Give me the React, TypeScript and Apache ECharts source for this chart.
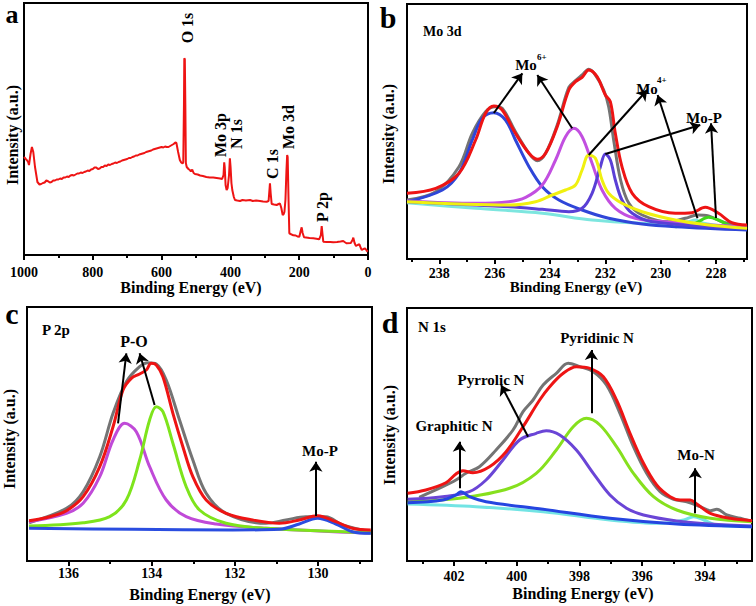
import React, { useEffect, useRef } from "react";
import * as echarts from "echarts";

const FONT = '"Liberation Serif", "Times New Roman", serif';

// ---------- Panel a : survey spectrum (binding energy eV, intensity a.u.) ----------
const surveySpectrum: [number, number][] = [
  [1000, 98], [995, 96], [992, 95], [988, 93], [985.5, 90], [981, 101], [977, 108], [973, 103], [968, 88], [961, 73], [955, 70.5],
  [950, 71], [945, 72], [940, 72.5], [935, 74.5], [930, 73.8], [925, 72.5], [920, 73], [915, 74.5], [910, 74.5], [905, 75.5],
  [900, 75.5], [895, 76.5], [890, 76], [885, 77.5], [880, 77.5], [875, 78.5], [870, 78], [865, 79.5], [860, 80], [855, 79.5],
  [850, 80.5], [845, 81.5], [840, 81.5], [835, 82.5], [830, 82], [825, 83], [820, 83.5], [815, 84.5], [810, 84], [805, 85.5],
  [800, 86], [795, 87.5], [790, 87.5], [785, 86], [780, 86.5], [775, 88], [770, 88], [765, 89.5], [760, 89], [755, 90.5],
  [750, 90], [745, 91], [740, 91.5], [735, 92.5], [730, 92], [725, 93], [720, 93.5], [715, 94.5], [710, 95], [705, 95.5],
  [700, 96], [695, 97], [690, 97], [685, 98], [680, 98.5], [675, 99.5], [670, 99.5], [665, 100.5], [660, 101], [655, 101.5],
  [650, 102], [645, 103], [640, 103.5], [635, 104], [630, 104.5], [625, 105.5], [620, 106], [615, 106.5], [610, 107], [605, 107.5],
  [600, 108], [595, 107.5], [590, 108.5], [585, 108], [580, 108], [575, 109], [570, 110], [565, 111], [560, 112.5], [557, 112],
  [552, 103], [547, 95], [543, 92.5], [539, 91.5], [537, 93], [535, 150], [534, 196.7], [532.5, 196], [531, 150], [529.5, 92],
  [527, 88], [522, 86], [518, 85], [515, 83.5], [511, 85.5], [507, 82], [503, 81], [495, 80.5], [488, 79.5], [480, 79],
  [470, 78], [460, 77.5], [450, 77.5], [440, 77], [430, 76.5], [424, 76], [420, 80], [418, 92.7], [416.5, 88], [414, 70],
  [411, 65], [408, 67], [404, 80], [401.5, 96.7], [399.5, 88], [397, 72], [394.5, 65], [390, 58], [386.7, 55], [380, 54.5],
  [372, 54], [365, 55], [355, 54.5], [343, 55], [335, 54], [325, 54.5], [314, 54], [305, 53.5], [294.5, 53.3], [289, 54],
  [286.5, 65], [285, 71.7], [283, 62], [280, 51], [273, 50.5], [265.5, 50], [260, 51], [256, 51.5], [252, 47], [248, 40],
  [245, 41], [243, 43], [240, 55], [237, 85], [235, 100], [233.5, 98], [231, 55], [228.7, 21.7], [225, 21], [217, 19.7],
  [210, 19.5], [205, 18.5], [199.6, 18.3], [195, 25], [192.8, 27.7], [190, 22], [186, 17.7], [180, 17.5], [170, 17], [159, 16.7],
  [150, 16.3], [142, 15.7], [137, 20], [134.6, 29], [132, 20], [130, 13.3], [120, 13], [110, 13], [101, 12.7], [90, 13],
  [80, 13.5], [72, 14], [66, 12.5], [62, 11.7], [50, 12], [45, 15], [42.7, 17.3], [39, 12], [35, 9], [30, 10],
  [25, 10.7], [21, 7], [18, 5], [13, 6], [8.5, 6.7], [4, 4.5], [0.7, 3.3],
];
const surveyTicks = [1000, 800, 600, 400, 200, 0];
const surveyMinorTicks = [900, 700, 500, 300, 100];

// ---------- Panel b : Mo 3d ----------
const moRaw: [number, number][] = [
  [239.17, 59], [238.13, 67.3], [237.29, 92.3], [236.81, 125.7], [236.33, 147.3], [235.97, 152.3], [235.73, 150.7],
  [235.25, 127.3], [234.76, 105.7], [234.46, 98.3], [234.16, 105.7], [233.74, 134], [233.32, 171.7], [233.08, 178.3],
  [232.84, 184], [232.6, 189.7], [232.36, 184], [232.06, 169], [231.88, 152.3], [231.7, 119], [231.45, 79], [231.15, 55.7],
  [230.67, 44], [229.71, 37.3], [229.11, 40.7], [228.68, 44], [228.27, 43], [227.79, 37.3], [227.31, 34], [226.88, 31.7],
];
const moFit: [number, number][] = [
  [239.17, 65.7], [238.13, 70.7], [237.29, 85.7], [236.69, 119], [236.33, 145.7], [236.03, 153], [235.73, 149], [235.25, 125.7],
  [234.76, 105.7], [234.46, 99.7], [234.16, 105.7], [233.74, 132.3], [233.32, 169], [233.08, 177.3], [232.84, 181.7], [232.6, 189],
  [232.3, 182.3], [232.0, 164], [231.82, 157.3], [231.64, 125.7], [231.4, 92.3], [231.03, 65.7], [230.43, 52.3], [229.47, 45.7],
  [228.87, 46.3], [228.39, 51.7], [227.91, 45.7], [227.43, 36.3], [226.88, 34],
];
const mo6High: [number, number][] = [
  [239.17, 57.3], [237.89, 69], [237.29, 85.7], [236.81, 119], [236.45, 140.7], [236.03, 146.3], [235.61, 139], [235.25, 119],
  [234.76, 92.3], [234.28, 72.3], [233.68, 59], [232.84, 49], [231.88, 40.7], [230.67, 35], [229.47, 32.3], [226.88, 29],
];
const mo6Low: [number, number][] = [
  [239.17, 58], [236.69, 55.7], [235.49, 57.3], [234.88, 61.7], [234.28, 74], [233.8, 99], [233.44, 122.3], [233.14, 130.7],
  [232.84, 122.3], [232.48, 95.7], [232.12, 69], [231.64, 50.7], [230.92, 40.7], [229.47, 36.3], [226.88, 32.3],
];
const mo4High: [number, number][] = [
  [239.17, 57.3], [235.49, 54], [234.52, 57.3], [233.92, 64], [233.44, 69], [233.08, 74], [232.84, 89], [232.6, 104],
  [232.36, 100.7], [232.12, 79], [231.88, 65.7], [231.4, 55.7], [230.67, 47.3], [229.47, 39], [228.27, 34], [226.88, 30.7],
];
const mo4Low: [number, number][] = [
  [239.17, 57.3], [235.49, 52.3], [234.28, 49.7], [233.32, 47.3], [232.84, 50.7], [232.48, 65.7], [232.18, 92.3], [232.0, 105],
  [231.82, 99], [231.64, 79], [231.4, 59], [231.03, 45.7], [230.31, 37.3], [226.88, 30.7],
];
const moBackground: [number, number][] = [
  [239.17, 56.3], [236.69, 50.7], [234.28, 45.7], [232.48, 39], [230.67, 35.7], [229.47, 35], [228.99, 37.3], [228.75, 39],
  [228.45, 35.7], [226.88, 29.7],
];
const moP: [number, number][] = [
  [229.47, 32.3], [228.75, 35.7], [228.27, 41.7], [227.91, 39], [227.43, 32.3], [226.88, 29.7],
];
const moArrows: [[number, number], [number, number]][] = [
  [[236.03, 146], [235.0, 185.7]],
  [[233.2, 130.7], [234.46, 184]],
  [[232.6, 104], [230.49, 169]],
  [[228.67, 40.7], [230.11, 164]],
  [[232.0, 105], [228.57, 134]],
  [[228.0, 41], [228.18, 135.7]],
];
const moTicks = [238, 236, 234, 232, 230, 228];
const moMinorTicks = [239, 237, 235, 233, 231, 229, 227];

// ---------- Panel c : P 2p ----------
const pRaw: [number, number][] = [
  [136.95, 38.3], [136.05, 52.7], [135.65, 69.3], [135.25, 104.3], [134.93, 147.7], [134.61, 179.3], [134.29, 194.3],
  [134.09, 198.3], [133.89, 197], [133.65, 181], [133.33, 141], [133.01, 101], [132.69, 67.7], [132.21, 47.7], [131.25, 37.7],
  [130.77, 41], [130.29, 44.3], [129.81, 44.3], [129.41, 36], [128.73, 29.3],
];
const pFit: [number, number][] = [
  [136.95, 40.3], [136.45, 44.3], [136.05, 50.3], [135.65, 64.3], [135.25, 94.3], [134.93, 134.3], [134.69, 171], [134.49, 182.7],
  [134.29, 187], [134.13, 191], [134.01, 197.7], [133.89, 196], [133.73, 184.3], [133.49, 147.7], [133.25, 114.3], [133.01, 84.3],
  [132.69, 61], [132.21, 47.7], [131.57, 41], [130.93, 37.7], [130.45, 41], [130.01, 45.3], [129.57, 39.3], [129.17, 32.7],
  [128.73, 31],
];
const pO1: [number, number][] = [
  [136.95, 39.3], [136.05, 47.7], [135.65, 57.7], [135.25, 84.3], [134.93, 121], [134.65, 137.7], [134.37, 129.3], [134.05, 94.3],
  [133.65, 61], [133.17, 44.3], [132.45, 37], [131.25, 32.7], [128.73, 27.7],
];
const pO2: [number, number][] = [
  [136.95, 35], [135.65, 38.3], [135.01, 44.3], [134.61, 61], [134.29, 101], [134.05, 141], [133.89, 154.3], [133.73, 149.3],
  [133.49, 117.7], [133.17, 74.3], [132.85, 51], [132.21, 37.7], [131.25, 32.7], [128.73, 28.3],
];
const pMoP: [number, number][] = [
  [136.95, 32.7], [134.45, 31.7], [132.05, 31], [130.93, 31.7], [130.45, 37], [130.01, 42.7], [129.57, 37], [129.17, 29.3],
  [128.73, 27.7],
];
const pArrows: [[number, number], [number, number]][] = [
  [[134.81, 137.7], [134.61, 207.7]],
  [[133.93, 156], [134.29, 207.7]],
  [[130.05, 45], [130.05, 99.3]],
];
const pTicks = [136, 134, 132, 130];
const pMinorTicks = [135, 133, 131, 129];

// ---------- Panel d : N 1s ----------
const nRaw: [number, number][] = [
  [403.11, 63.7], [402.36, 74.3], [401.94, 81], [401.62, 87.7], [401.19, 94.3], [400.66, 111], [400.12, 131], [399.8, 149.3],
  [399.48, 161], [399.16, 176], [398.74, 187.7], [398.36, 197.7], [397.99, 194.3], [397.56, 189.3], [397.14, 176],
  [396.71, 147.7], [396.28, 114.3], [395.86, 87.7], [395.43, 69.3], [395.0, 61.7], [394.58, 59.3], [394.15, 54.3],
  [393.83, 50.3], [393.62, 51.7], [393.3, 46], [392.87, 42.7], [392.5, 39.3],
];
const nFit: [number, number][] = [
  [403.48, 67.7], [402.9, 71], [402.26, 78.3], [401.94, 87], [401.72, 90.3], [401.4, 88.3], [400.87, 94.3], [400.34, 109.3],
  [399.8, 134.3], [399.27, 161], [398.95, 174.3], [398.52, 187.7], [398.1, 194.3], [397.67, 192.7], [397.24, 184.3],
  [396.82, 161], [396.39, 127.7], [395.96, 97.7], [395.54, 76], [395.11, 64.3], [394.79, 61], [394.47, 61], [394.26, 57],
  [393.83, 47.7], [393.19, 42.7], [392.5, 40.3],
];
const nPyrrolic: [number, number][] = [
  [403.48, 61.7], [402.36, 64.3], [401.51, 69.3], [400.98, 81], [400.44, 101], [399.91, 121], [399.38, 127.7], [399.06, 130.3],
  [398.63, 126], [398.1, 111], [397.56, 87.7], [397.03, 66], [396.5, 52.7], [395.96, 46], [394.9, 40], [393.83, 37], [392.5, 35],
];
const nPyridinic: [number, number][] = [
  [403.48, 59.3], [401.83, 62.7], [400.23, 72.7], [399.38, 87.7], [398.74, 111], [398.2, 134.3], [397.78, 142.7], [397.35, 136],
  [396.82, 114.3], [396.28, 87.7], [395.64, 64.3], [394.9, 51], [393.83, 42.7], [392.5, 39.3],
];
const nGraphitic: [number, number][] = [
  [403.48, 58.3], [402.36, 61], [401.94, 66], [401.78, 69.3], [401.51, 64.3], [400.98, 59.3], [399.16, 51.7], [397.03, 42.7],
  [394.9, 37], [392.5, 34.3],
];
const nMoN: [number, number][] = [
  [403.48, 57], [401.3, 54.3], [399.16, 49.3], [397.03, 41], [395.43, 37.7], [394.68, 41], [394.36, 44.3], [394.04, 41],
  [393.62, 36], [392.5, 34.3],
];
const nArrows: [[number, number], [number, number]][] = [
  [[397.62, 147.7], [397.62, 211]],
  [[399.64, 124.3], [400.5, 176]],
  [[401.83, 72.7], [401.83, 119.3]],
  [[394.31, 47.7], [394.31, 92.7]],
];
const nTicks = [402, 400, 398, 396, 394];
const nMinorTicks = [403, 401, 399, 397, 395, 393];

// ---------- chart builder ----------
type Curve = { data: [number, number][]; color: string; width?: number; smooth?: number | boolean };
type Panel = {
  grid: { left: number; top: number; width: number; height: number };
  xMin: number; xMax: number; yMax: number;
  major: number[]; minor: number[]; labelMargin: number;
  curves: Curve[];
  arrows: [[number, number], [number, number]][];
};

function buildOption() {
  const RED = "#ee1414";
  const GRAY = "#747474";
  const panels: Panel[] = [
    {
      grid: { left: 24, top: 3, width: 344, height: 252 }, xMin: 0, xMax: 1000, yMax: 252,
      major: surveyTicks, minor: surveyMinorTicks, labelMargin: 10,
      curves: [{ data: surveySpectrum, color: RED, width: 2, smooth: false }],
      arrows: [],
    },
    {
      grid: { left: 407, top: 4, width: 340, height: 255 }, xMin: 226.88, xMax: 239.17, yMax: 255,
      major: moTicks, minor: moMinorTicks, labelMargin: 7,
      curves: [
        { data: moRaw, color: GRAY },
        { data: moBackground, color: "#7de6df" },
        { data: moP, color: "#3fd81a" },
        { data: mo6High, color: "#2f46d8" },
        { data: mo6Low, color: "#c24fe0" },
        { data: mo4Low, color: "#5a3fd6" },
        { data: mo4High, color: "#f0f010" },
        { data: moFit, color: RED },
      ],
      arrows: moArrows,
    },
    {
      grid: { left: 27, top: 307, width: 345, height: 254 }, xMin: 128.7, xMax: 137, yMax: 254,
      major: pTicks, minor: pMinorTicks, labelMargin: 5,
      curves: [
        { data: pRaw, color: GRAY },
        { data: pO1, color: "#c04ad8" },
        { data: pO2, color: "#7ee41c" },
        { data: pMoP, color: "#2a4de0" },
        { data: pFit, color: RED },
      ],
      arrows: pArrows,
    },
    {
      grid: { left: 407, top: 308, width: 345, height: 253 }, xMin: 392.5, xMax: 403.5, yMax: 253,
      major: nTicks, minor: nMinorTicks, labelMargin: 8,
      curves: [
        { data: nRaw, color: GRAY },
        { data: nMoN, color: "#72e4e4" },
        { data: nPyridinic, color: "#86e01e" },
        { data: nPyrrolic, color: "#6a45d6" },
        { data: nGraphitic, color: "#2545e0" },
        { data: nFit, color: RED },
      ],
      arrows: nArrows,
    },
  ];

  const grid: any[] = [];
  const xAxis: any[] = [];
  const yAxis: any[] = [];
  const series: any[] = [];

  panels.forEach((p, i) => {
    grid.push({ ...p.grid, show: true, borderColor: "#000", borderWidth: 2, backgroundColor: "transparent", containLabel: false });
    const base = { type: "value", gridIndex: i, min: p.xMin, max: p.xMax, inverse: true, position: "bottom", splitLine: { show: false }, axisLine: { show: false } };
    xAxis.push({
      ...base,
      axisTick: { show: true, inside: false, customValues: p.major, length: 5, lineStyle: { color: "#000", width: 2 } },
      axisLabel: {
        show: true, customValues: p.major, margin: p.labelMargin, color: "#000", fontFamily: FONT, fontWeight: "bold", fontSize: 14,
        formatter: (v: number) => String(v),
      },
    });
    xAxis.push({
      ...base,
      axisTick: { show: true, inside: false, customValues: p.minor, length: 3, lineStyle: { color: "#000", width: 2 } },
      axisLabel: { show: false },
    });
    yAxis.push({ type: "value", gridIndex: i, min: 0, max: p.yMax, axisLine: { show: false }, axisTick: { show: false }, axisLabel: { show: false }, splitLine: { show: false } });
    p.curves.forEach((c) => {
      series.push({
        type: "line", xAxisIndex: 2 * i, yAxisIndex: i, data: c.data, showSymbol: false, symbol: "none",
        smooth: c.smooth === undefined ? 0.35 : c.smooth, silent: true,
        lineStyle: { color: c.color, width: c.width ?? 3 }, z: 2,
      });
    });
    if (p.arrows.length) {
      series.push({
        type: "lines", coordinateSystem: "cartesian2d", xAxisIndex: 2 * i, yAxisIndex: i, silent: true, z: 5,
        symbol: ["none", "arrow"], symbolSize: 10,
        lineStyle: { color: "#000", width: 2, opacity: 1 },
        data: p.arrows.map((a) => ({ coords: [a[0], a[1]] })),
      });
    }
  });

  const txt = (text: string, x: number, y: number, size: number, align = "center", rot = 0) => ({
    type: "text", x, y, rotation: rot, silent: true, z: 10,
    style: { text, font: `bold ${size}px ${FONT}`, fill: "#000", align, verticalAlign: "middle" },
  });
  const R = Math.PI / 2;
  const graphic = [
    txt("a", 12, 14, 26), txt("b", 388, 17, 30), txt("c", 12, 313, 30), txt("d", 390, 322, 30),
    txt("Intensity (a.u.)", 12, 135, 16, "center", R),
    txt("Intensity (a.u.)", 388, 134, 16, "center", R),
    txt("Intensity (a.u.)", 9, 439, 16, "center", R),
    txt("Intensity (a.u.)", 389, 435, 16, "center", R),
    txt("Binding Energy (eV)", 191, 287, 16),
    txt("Binding Energy (eV)", 576, 287, 15),
    txt("Binding Energy (eV)", 200, 594, 16),
    txt("Binding Energy (eV)", 583, 593, 16),
    // panel a peaks
    txt("O 1s", 187, 28, 16, "center", R),
    txt("Mo 3p", 220, 135, 16, "center", R),
    txt("N 1s", 236, 134, 16, "center", R),
    txt("C 1s", 272, 164, 16, "center", R),
    txt("Mo 3d", 288, 127, 16, "center", R),
    txt("P 2p", 322, 207, 16, "center", R),
    // panel b
    txt("Mo 3d", 423, 31, 14, "left"),
    txt("Mo", 526, 65, 15), txt("6+", 537, 57, 9, "left"),
    txt("Mo", 647, 89, 15), txt("4+", 657, 79.5, 9, "left"),
    txt("Mo-P", 704, 118, 15),
    // panel c
    txt("P 2p", 42, 330, 15, "left"),
    txt("P-O", 134, 341, 16),
    txt("Mo-P", 320, 451, 15),
    // panel d
    txt("N 1s", 418, 327, 15, "left"),
    txt("Pyridinic N", 597, 338, 15),
    txt("Pyrrolic N", 491, 380, 15),
    txt("Graphitic N", 454, 426, 15),
    txt("Mo-N", 696, 455, 15),
  ];

  return { animation: false, backgroundColor: "#fff", grid, xAxis, yAxis, series, graphic };
}

export default function App() {
  const ref = useRef<HTMLDivElement>(null);
  useEffect(() => {
    if (!ref.current) return;
    const chart = echarts.init(ref.current, undefined, { renderer: "svg" });
    chart.setOption(buildOption() as any);
    return () => chart.dispose();
  }, []);
  return <div ref={ref} style={{ position: "absolute", left: 0, top: 0, width: 756, height: 606, background: "#fff" }} />;
}
